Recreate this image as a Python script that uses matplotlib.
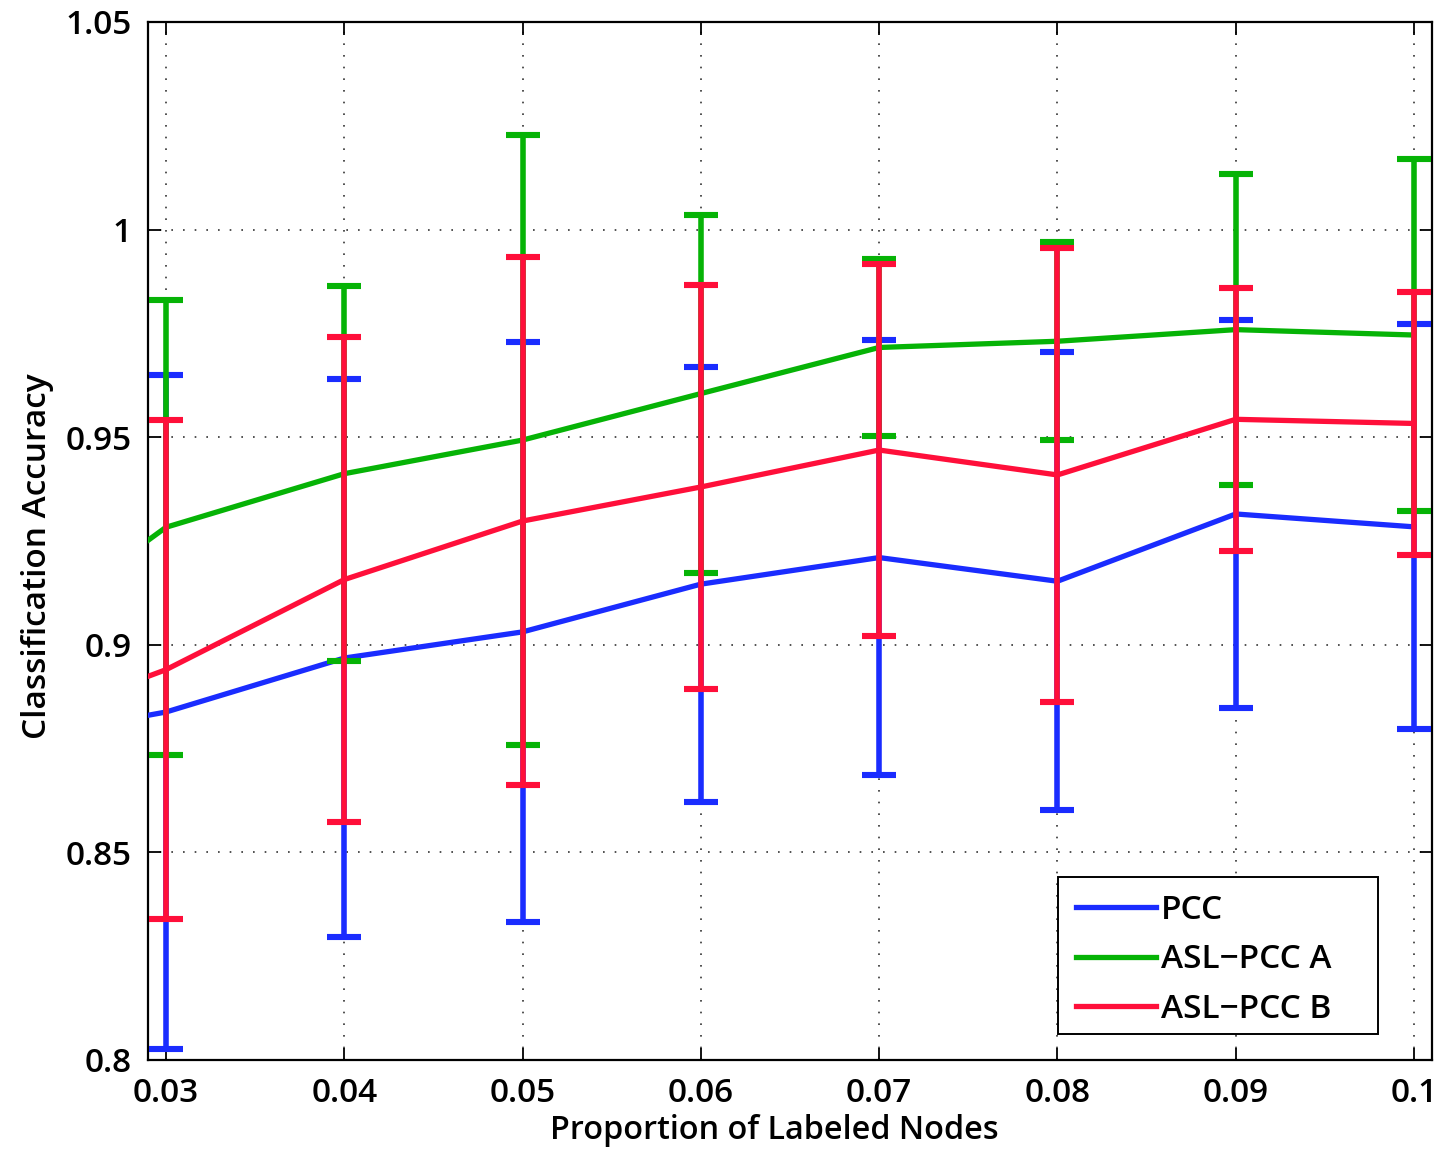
import matplotlib
matplotlib.use('Agg')
import matplotlib.pyplot as plt
from matplotlib.patches import Rectangle

# proportion of labeled nodes (0.02 run lies just left of the visible range)
props = [0.02, 0.03, 0.04, 0.05, 0.06, 0.07, 0.08, 0.09, 0.1]

# mean accuracy per method
pcc_mean = [0.876, 0.8838, 0.8968, 0.9031, 0.9146, 0.9210, 0.9153, 0.9315, 0.9284]
asl_a_mean = [0.897, 0.9283, 0.9412, 0.9493, 0.9605, 0.9716, 0.9731, 0.9759, 0.9746]
asl_b_mean = [0.878, 0.8940, 0.9157, 0.9298, 0.9380, 0.9469, 0.9409, 0.9543, 0.9533]

# std of accuracy, only for the plotted range 0.03 .. 0.1
pcc_std = [0.0811, 0.0672, 0.0699, 0.0524, 0.0524, 0.0552, 0.0467, 0.0488]
asl_a_std = [0.0548, 0.0452, 0.0734, 0.0431, 0.0212, 0.0239, 0.0374, 0.0424]
asl_b_std = [0.0601, 0.0584, 0.0635, 0.0487, 0.0448, 0.0546, 0.0317, 0.0317]

labels = ['PCC', 'ASL\u2212PCC A', 'ASL\u2212PCC B']
colors = ['#1a2cff', '#06b306', '#ff0f3a']

x_ticks = [0.03, 0.04, 0.05, 0.06, 0.07, 0.08, 0.09, 0.1]
x_tick_labels = ['0.03', '0.04', '0.05', '0.06', '0.07', '0.08', '0.09', '0.1']
y_ticks = [0.8, 0.85, 0.9, 0.95, 1.0, 1.05]
y_tick_labels = ['0.8', '0.85', '0.9', '0.95', '1', '1.05']

plt.rcParams['font.family'] = ['Open Sans', 'DejaVu Sans']
plt.rcParams['font.size'] = 24
plt.rcParams['font.weight'] = 'semibold'
plt.rcParams['axes.labelweight'] = 'semibold'

fig = plt.figure(figsize=(14.34, 11.5), dpi=100)
ax = fig.add_axes([0.1032, 0.0783, 0.8954, 0.9026])

series = [(pcc_mean, pcc_std), (asl_a_mean, asl_a_std), (asl_b_mean, asl_b_std)]
for i, ((mean, std), label, color) in enumerate(zip(series, labels, colors)):
    z = 3 + 2 * i
    ax.plot(props, mean, color=color, linewidth=3.8, label=label, zorder=z)
    ax.errorbar(props[1:], mean[1:], yerr=std, fmt='none', ecolor=color,
                elinewidth=4.0, capsize=12, capthick=4.4, zorder=z + 1)

ax.set_xlim(0.02899, 0.10101)
ax.set_ylim(0.8, 1.05)
ax.set_xticks(x_ticks)
ax.set_xticklabels(x_tick_labels)
ax.set_yticks(y_ticks)
ax.set_yticklabels(y_tick_labels)

ax.tick_params(direction='in', length=9, width=1.3, top=True, right=True,
               labelsize=24, pad=12)
for sp in ax.spines.values():
    sp.set_linewidth(1.6)

ax.grid(True, color='#333333', linestyle=(0, (1, 6)), linewidth=1.2)
ax.set_axisbelow(True)

ax.set_xlabel('Proportion of Labeled Nodes', fontsize=23.3)
ax.set_ylabel('Classification Accuracy', fontsize=24)
ax.xaxis.set_label_coords(0.488, -0.052)
ax.yaxis.set_label_coords(-0.073, 0.485)

# legend box drawn separately so it keeps the wide right margin
ax.add_patch(Rectangle((0.7087, 0.025), 0.2493, 0.1513, transform=ax.transAxes,
                       facecolor='white', edgecolor='black', linewidth=1.4,
                       zorder=20))
leg = ax.legend(loc='center left', bbox_to_anchor=(0.7228, 0.0966), fontsize=24,
                handlelength=2.4, handletextpad=0.14, labelspacing=0.49,
                borderpad=0, borderaxespad=0, frameon=False)
leg.set_zorder(21)
for line in leg.get_lines():
    line.set_linewidth(3.8)

fig.savefig('out.png', dpi=100)
